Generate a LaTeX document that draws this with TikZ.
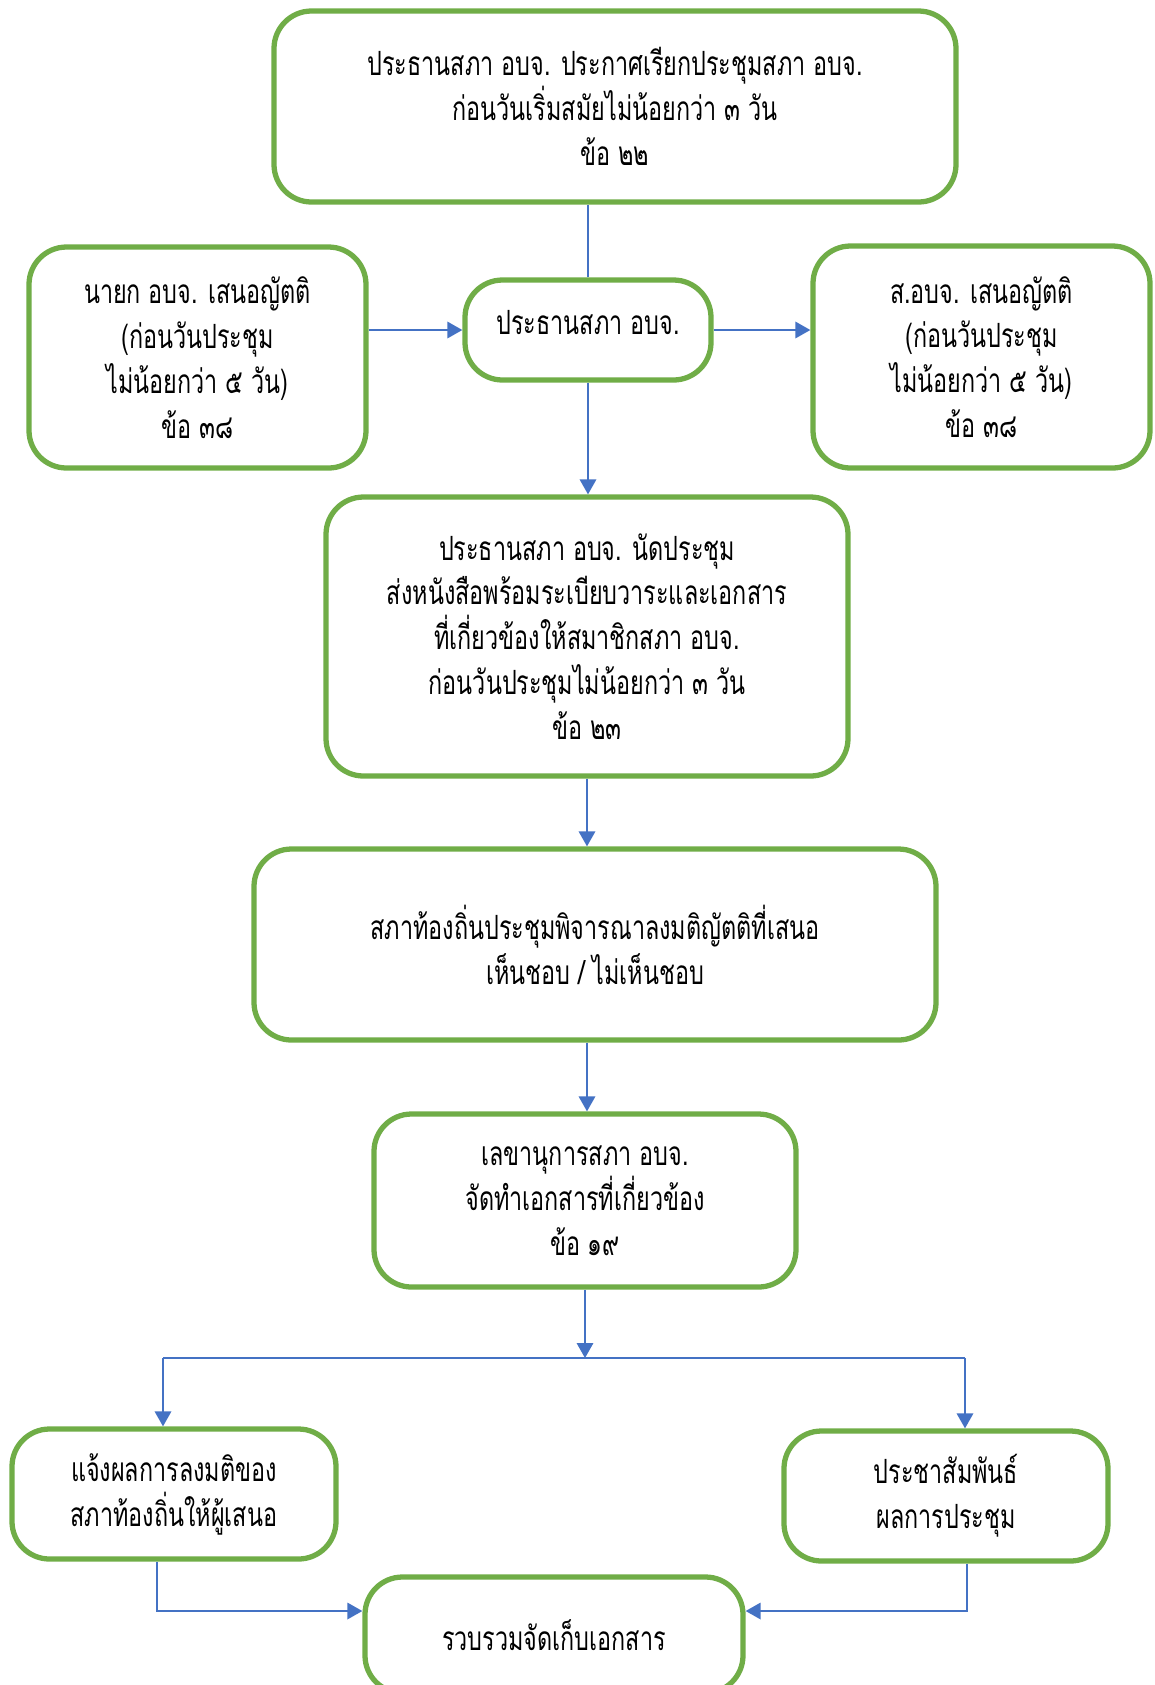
\documentclass[tikz,border=0pt]{standalone}
\usepackage{fontspec}
\newfontfamily\thaifont[Script=Thai,FakeStretch=0.70]{Loma}
\usetikzlibrary{arrows.meta}
\definecolor{boxgreen}{HTML}{70AD47}
\definecolor{lineblue}{HTML}{4472C4}
\tikzset{
  box/.style={draw=boxgreen,line width=3pt,rounded corners=0.75cm,fill=white,
    align=center,inner sep=0pt,font=\thaifont\fontsize{19}{25.5}\selectfont},
  flow/.style={draw=lineblue,line width=1pt,-{Triangle[length=0.30cm,width=0.33cm]}},
  plain/.style={draw=lineblue,line width=1pt}
}
\begin{document}
\begin{tikzpicture}
  \useasboundingbox (0,0) rectangle (23.1,-33.7);
  \clip (0,0) rectangle (23.1,-33.7);
  % boxes
  \node[box,minimum width=13.64cm,minimum height=3.82cm] (call) at (12.30,-2.13)
    {ประธานสภา อบจ. ประกาศเรียกประชุมสภา อบจ.\\ก่อนวันเริ่มสมัยไม่น้อยกว่า ๓ วัน\\ข้อ ๒๒};
  \node[box,minimum width=6.74cm,minimum height=4.42cm] (mayor) at (3.95,-7.15)
    {นายก อบจ. เสนอญัตติ\\(ก่อนวันประชุม\\ไม่น้อยกว่า ๕ วัน)\\ข้อ ๓๘};
  \node[box,minimum width=4.92cm,minimum height=2.0cm,text depth=0.3cm] (chair) at (11.76,-6.60)
    {ประธานสภา อบจ.};
  \node[box,minimum width=6.74cm,minimum height=4.44cm] (member) at (19.63,-7.14)
    {ส.อบจ. เสนอญัตติ\\(ก่อนวันประชุม\\ไม่น้อยกว่า ๕ วัน)\\ข้อ ๓๘};
  \node[box,minimum width=10.44cm,minimum height=5.58cm] (notice) at (11.74,-12.73)
    {ประธานสภา อบจ. นัดประชุม\\ส่งหนังสือพร้อมระเบียบวาระและเอกสาร\\ที่เกี่ยวข้องให้สมาชิกสภา อบจ.\\ก่อนวันประชุมไม่น้อยกว่า ๓ วัน\\ข้อ ๒๓};
  \node[box,minimum width=13.64cm,minimum height=3.82cm] (vote) at (11.90,-18.89)
    {สภาท้องถิ่นประชุมพิจารณาลงมติญัตติที่เสนอ\\เห็นชอบ / ไม่เห็นชอบ};
  \node[box,minimum width=8.44cm,minimum height=3.46cm] (secretary) at (11.70,-24.01)
    {เลขานุการสภา อบจ.\\จัดทำเอกสารที่เกี่ยวข้อง\\ข้อ ๑๙};
  \node[box,minimum width=6.48cm,minimum height=2.60cm] (inform) at (3.48,-29.88)
    {แจ้งผลการลงมติของ\\สภาท้องถิ่นให้ผู้เสนอ};
  \node[box,minimum width=6.48cm,minimum height=2.60cm] (publish) at (18.92,-29.92)
    {ประชาสัมพันธ์\\ผลการประชุม};
  \node[box,minimum width=7.56cm,minimum height=2.32cm] (archive) at (11.08,-32.70)
    {รวบรวมจัดเก็บเอกสาร};
  % split points
  \coordinate (J)  at (11.70,-27.16);
  \coordinate (JL) at (3.26,-27.16);
  \coordinate (JR) at (19.30,-27.16);
  \coordinate (BL) at (3.14,-32.22);
  \coordinate (BR) at (19.34,-32.22);
  % connectors
  \draw[plain] (chair.north) -- (chair.north |- call.south);
  \draw[flow] (mayor.east |- chair.west) -- (chair.west);
  \draw[flow] (chair.east) -- (member.west |- chair.east);
  \draw[flow] (chair.south) -- (chair.south |- notice.north);
  \draw[flow] (notice.south) -- (notice.south |- vote.north);
  \draw[flow] (vote.south -| notice.south) -- (notice.south |- secretary.north);
  \draw[flow] (secretary.south) -- (J);
  \draw[plain] (JL) -- (JR);
  \draw[flow] (JL) -- (JL |- inform.north);
  \draw[flow] (JR) -- (JR |- publish.north);
  \draw[flow] (BL |- inform.south) -- (BL) -- (archive.west |- BL);
  \draw[flow] (BR |- publish.south) -- (BR) -- (archive.east |- BR);
\end{tikzpicture}
\end{document}
